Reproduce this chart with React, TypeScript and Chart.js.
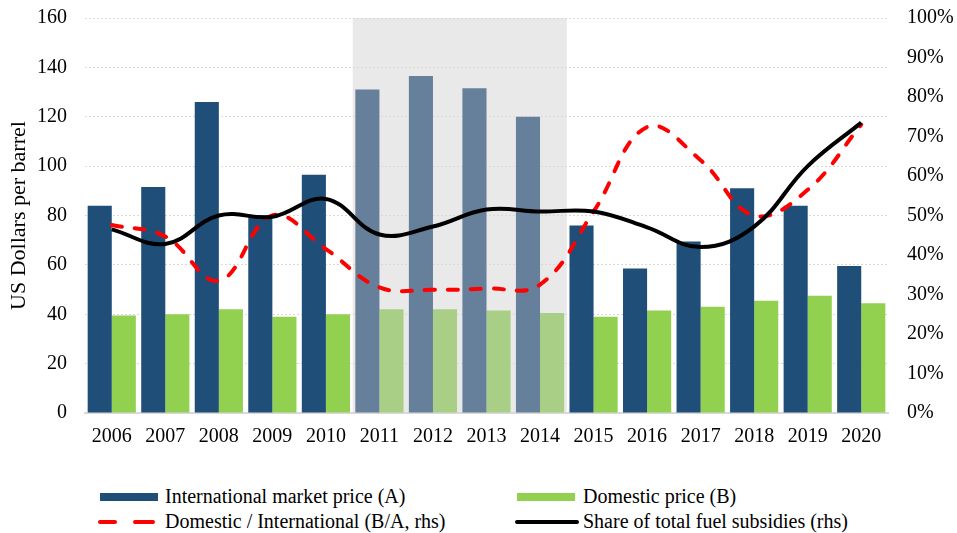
import React, { useEffect, useRef } from "react";
import { Chart, registerables } from "chart.js";

Chart.register(...registerables);

const years = ["2006","2007","2008","2009","2010","2011","2012","2013","2014","2015","2016","2017","2018","2019","2020"];
const internationalPrice = [84, 91.5, 126, 80, 96.5, 131, 136.5, 131.5, 120, 76, 58.5, 69.5, 91, 84, 59.5];
const domesticPrice = [39.5, 40, 42, 39, 40, 42, 42, 41.5, 40.5, 39, 41.5, 43, 45.5, 47.5, 44.5];
const ratioBA = [0.476, 0.447, 0.335, 0.50, 0.415, 0.318, 0.312, 0.315, 0.325, 0.51, 0.724, 0.64, 0.50, 0.565, 0.73];
const shareSubsidies = [0.465, 0.428, 0.50, 0.497, 0.542, 0.452, 0.472, 0.515, 0.51, 0.51, 0.47, 0.42, 0.472, 0.625, 0.735];
const shadedStart = 5; // 2011
const shadedEnd = 8;   // 2014

const FONT = "'Liberation Serif', 'Times New Roman', serif";
const BLUE = "#1f4e79";
const BLUE_SHADED = "#667f9a";
const GREEN = "#92d050";
const GREEN_SHADED = "#a9cf86";

const shadePlugin = {
  id: "shade",
  beforeDraw(chart: any) {
    const { ctx, chartArea, scales } = chart;
    const x = scales.x;
    const step = x.getPixelForValue(1) - x.getPixelForValue(0);
    const x0 = x.getPixelForValue(shadedStart) - step / 2;
    const x1 = x.getPixelForValue(shadedEnd) + step / 2;
    ctx.save();
    ctx.fillStyle = "#e9e9e9";
    ctx.fillRect(x0, chartArea.top, x1 - x0, chartArea.bottom - chartArea.top);
    ctx.restore();
  },
};

export default function App() {
  const ref = useRef<HTMLCanvasElement | null>(null);
  useEffect(() => {
    document.body.style.margin = "0";
    const inShade = (i: number) => i >= shadedStart && i <= shadedEnd;
    const chart = new Chart(ref.current as HTMLCanvasElement, {
      type: "bar",
      data: {
        labels: years,
        datasets: [
          {
            type: "bar",
            label: "International market price (A)",
            data: internationalPrice,
            backgroundColor: years.map((_, i) => (inShade(i) ? BLUE_SHADED : BLUE)),
            yAxisID: "y",
            order: 2,
            categoryPercentage: 0.9,
            barPercentage: 1.0,
          },
          {
            type: "bar",
            label: "Domestic price (B)",
            data: domesticPrice,
            backgroundColor: years.map((_, i) => (inShade(i) ? GREEN_SHADED : GREEN)),
            yAxisID: "y",
            order: 2,
            categoryPercentage: 0.9,
            barPercentage: 1.0,
          },
          {
            type: "line",
            label: "Domestic / International (B/A, rhs)",
            data: ratioBA,
            borderColor: "#ff0000",
            borderWidth: 4,
            borderDash: [10, 13],
            borderCapStyle: "round",
            tension: 0.4,
            pointRadius: 0,
            fill: false,
            yAxisID: "y1",
            order: 1,
          },
          {
            type: "line",
            label: "Share of total fuel subsidies (rhs)",
            data: shareSubsidies,
            borderColor: "#000000",
            borderWidth: 4,
            tension: 0.4,
            pointRadius: 0,
            fill: false,
            yAxisID: "y1",
            order: 0,
          },
        ] as any,
      },
      options: {
        responsive: false,
        maintainAspectRatio: false,
        animation: false,
        layout: { padding: { top: 18, left: 0, right: 0, bottom: 0 } },
        plugins: { legend: { display: false }, tooltip: { enabled: false } },
        scales: {
          x: {
            grid: { display: false, drawTicks: false },
            border: { display: true, color: "#d9d9d9", width: 2 },
            ticks: { color: "#000", font: { family: FONT, size: 20 }, padding: 12, maxRotation: 0 },
            afterFit: (s: any) => { s.height = 52; s.paddingLeft = 0; s.paddingRight = 0; },
          },
          y: {
            position: "left",
            min: 0,
            max: 160,
            ticks: { stepSize: 20, color: "#000", font: { family: FONT, size: 20 }, padding: 18 },
            grid: { color: "#d9d9d9", lineWidth: 1, drawTicks: false },
            border: { display: false, dash: [2, 2] },
            title: { display: true, text: "US Dollars per barrel", color: "#000", font: { family: FONT, size: 22 }, padding: { top: 6, bottom: 4 } },
            afterFit: (s: any) => { s.width = 85; s.paddingTop = 0; s.paddingBottom = 0; },
          },
          y1: {
            position: "right",
            min: 0,
            max: 1,
            ticks: {
              stepSize: 0.1,
              color: "#000",
              font: { family: FONT, size: 20 },
              padding: 19,
              callback: (v: any) => Math.round(Number(v) * 100) + "%",
            },
            grid: { drawOnChartArea: false, drawTicks: false },
            border: { display: false },
            afterFit: (s: any) => { s.width = 69; s.paddingTop = 0; s.paddingBottom = 0; },
          },
        },
      } as any,
      plugins: [shadePlugin],
    });
    return () => chart.destroy();
  }, []);

  const textStyle: React.CSSProperties = {
    position: "absolute",
    fontFamily: FONT,
    fontSize: 20,
    color: "#000",
    lineHeight: "22px",
    whiteSpace: "nowrap",
  };

  return (
    <div style={{ position: "relative", width: 957, height: 533, background: "#fff" }}>
      <canvas ref={ref} width={957} height={465} style={{ display: "block" }} />
      <svg width={957} height={68} style={{ position: "absolute", left: 0, top: 465 }}>
        <rect x={100} y={28} width={58} height={8} fill={BLUE} />
        <rect x={517} y={28} width={58} height={8} fill={GREEN} />
        <line x1={100} y1={57} x2={115} y2={57} stroke="#ff0000" strokeWidth={4} strokeLinecap="round" />
        <line x1={135} y1={57} x2={153} y2={57} stroke="#ff0000" strokeWidth={4} strokeLinecap="round" />
        <line x1={517} y1={57} x2={577} y2={57} stroke="#000" strokeWidth={4} strokeLinecap="round" />
      </svg>
      <div style={{ ...textStyle, left: 165, top: 485 }}>International market price (A)</div>
      <div style={{ ...textStyle, left: 583, top: 485 }}>Domestic price (B)</div>
      <div style={{ ...textStyle, left: 165, top: 510 }}>Domestic / International (B/A, rhs)</div>
      <div style={{ ...textStyle, left: 583, top: 510 }}>Share of total fuel subsidies (rhs)</div>
    </div>
  );
}
